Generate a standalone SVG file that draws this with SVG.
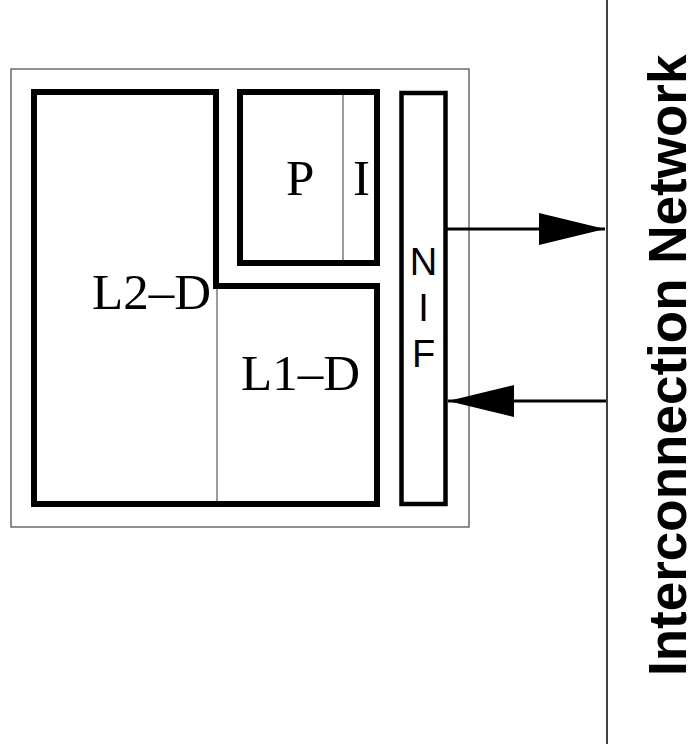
<svg xmlns="http://www.w3.org/2000/svg" width="691" height="744" viewBox="0 0 691 744">
<style>
.thick{fill:none;stroke:#000;stroke-width:6;stroke-linejoin:miter}
.thin{fill:none;stroke:#666;stroke-width:1.3}
.serif{font-family:"Liberation Serif","Times New Roman",serif;font-size:51px;fill:#000}
.sans{font-family:"Liberation Sans",Arial,sans-serif;font-size:38px;fill:#000;text-anchor:middle}
.net{font-family:"Liberation Sans",Arial,sans-serif;font-size:53px;font-weight:bold;fill:#000}
.conn{fill:none;stroke:#000;stroke-width:3}
</style>
<defs>
<marker id="ah" markerWidth="66" markerHeight="32" refX="66" refY="16" orient="auto" markerUnits="userSpaceOnUse">
<path d="M0,0 L66,16 L0,32 Z" fill="#000"/>
</marker>
</defs>
<g id="chip">
<rect x="11" y="69" width="458" height="458" fill="none" stroke="#444" stroke-width="1.2"/>
</g>
<g id="L2-D">
<path class="thick" d="M34,92 H216 V286 H377 V504 H34 Z"/>
<text class="serif" x="92" y="309">L2–D</text>
</g>
<g id="L1-D">
<line class="thin" x1="217" y1="289" x2="217" y2="501"/>
<text class="serif" x="241" y="390">L1–D</text>
</g>
<g id="PI">
<rect class="thick" x="240" y="92" width="137" height="171"/>
<line class="thin" x1="343" y1="95" x2="343" y2="260"/>
<text class="serif" x="286" y="195">P</text>
<text class="serif" x="353" y="195">I</text>
</g>
<g id="NIF">
<rect x="401.5" y="93" width="44" height="411" fill="none" stroke="#000" stroke-width="4.5"/>
<text class="sans" x="423.5" y="275">N</text>
<text class="sans" x="423.5" y="321">I</text>
<text class="sans" x="423.5" y="367">F</text>
</g>
<g id="network">
<line x1="607" y1="0" x2="607" y2="744" stroke="#000" stroke-width="1.5"/>
<text class="net" transform="translate(686,676) rotate(-90)">Interconnection Network</text>
</g>
<g id="connectors">
<line class="conn" x1="447" y1="229" x2="605" y2="229" marker-end="url(#ah)"/>
<line class="conn" x1="606" y1="401" x2="448" y2="401" marker-end="url(#ah)"/>
</g>
</svg>
